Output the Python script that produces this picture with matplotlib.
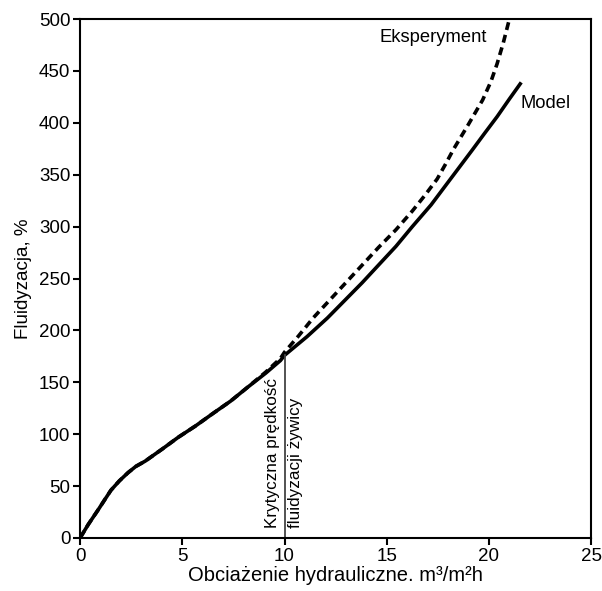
import numpy as np
import matplotlib.pyplot as plt

plt.rcParams['font.family'] = ['Liberation Sans', 'DejaVu Sans']

# dane
model_x = [0, 0.4, 0.88, 1.21, 1.51, 1.92, 2.35, 2.73, 3.18, 4.04, 4.8, 5.65, 6.5, 7.37, 8.18, 9.09, 9.8,
           10.0, 11.1, 12.1, 13.0, 13.8, 14.6, 15.45, 16.25, 17.17, 17.97, 18.58, 19.19, 19.79, 20.4, 21.0, 21.58]
model_y = [0, 13, 27, 37, 46, 55, 63, 69, 74, 86, 97, 108, 120, 132, 145, 159, 171,
           176, 194, 212, 230, 246, 263, 281, 300, 321, 342, 358, 374, 390, 406, 423, 439]

eksp_x = [0, 0.4, 0.88, 1.21, 1.51, 1.92, 2.35, 2.73, 3.18, 4.04, 4.8, 5.65, 6.5, 7.37, 8.18, 9.09, 9.8,
          10.0, 10.7, 11.4, 12.2, 13.0, 13.8, 14.6, 15.45, 16.25, 16.86, 17.47, 17.87, 18.28, 18.98, 19.69,
          20.1, 20.4, 20.7, 21.0, 21.2]
eksp_y = [0, 13, 27, 37, 46, 55, 63, 69, 74, 86, 97, 108, 120, 132, 145, 160, 173,
          179, 195, 212, 229, 246, 263, 280, 297, 315, 330, 346, 360, 375, 398, 422,
          440, 457, 477, 500, 515]

x_ticks = [0, 5, 10, 15, 20, 25]
y_ticks = [0, 50, 100, 150, 200, 250, 300, 350, 400, 450, 500]

krytyczna_x = 10
krytyczna_y = 176

fig = plt.figure(figsize=(6.02, 5.91), dpi=100)
ax = fig.add_axes([0.133, 0.0897, 0.849, 0.878])

ax.plot(model_x, model_y, color='black', lw=2.6, solid_capstyle='butt', solid_joinstyle='round')
ax.plot(eksp_x, eksp_y, color='black', lw=2.6, dashes=(2.2, 1.4))

# linia krytycznej predkosci
ax.plot([krytyczna_x, krytyczna_x], [0, krytyczna_y], color='#444444', lw=1.3)
ax.text(krytyczna_x - 0.6, 10, 'Krytyczna prędkość', rotation=90, ha='center', va='bottom', fontsize=12.3)
ax.text(krytyczna_x + 0.55, 10, 'fluidyzacji żywicy', rotation=90, ha='center', va='bottom', fontsize=12.3)

ax.text(17.27, 482, 'Eksperyment', ha='center', va='center', fontsize=13.2)
ax.text(22.75, 419, 'Model', ha='center', va='center', fontsize=13.2)

ax.set_xlim(0, 25)
ax.set_ylim(0, 500)
ax.set_xticks(x_ticks)
ax.set_yticks(y_ticks)
ax.tick_params(direction='out', length=5, width=1.5, labelsize=13.5, pad=2, top=False, right=False)
for s in ax.spines.values():
    s.set_linewidth(1.5)

ax.set_xlabel('Obciażenie hydrauliczne. m³/m²h', fontsize=14.5, labelpad=1)
ax.set_ylabel('Fluidyzacja, %', fontsize=13.5, labelpad=5)

plt.savefig('out.png', dpi=100)
